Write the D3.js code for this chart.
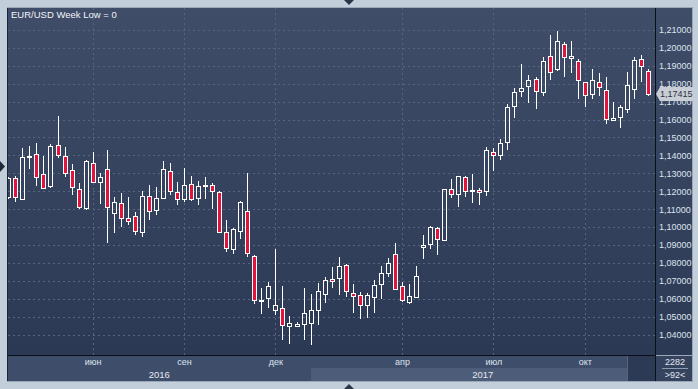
<!DOCTYPE html>
<html>
<head>
<meta charset="utf-8">
<script src="https://cdn.jsdelivr.net/npm/d3@7"></script>
<style>
  body { margin: 0; background: #c3cedb; }
  svg { display: block; font-family: "Liberation Sans", Arial, sans-serif; }
</style>
</head>
<body>
<div id="graphic"></div>
<script>
// weekly EUR/USD candles, first week starts 2016-03-07
var firstWeek = "2016-03-07";
var openP = [1.1165,1.1272,1.1158,1.1394,1.1406,1.1294,1.1229,1.1456,1.1395,1.1317,1.1214,1.1108,1.1356,1.1250,1.1322,1.1077,1.1132,1.1049,1.1060,1.0970,
  1.1171,1.1093,1.1160,1.1311,1.1194,1.1155,1.1238,1.1160,1.1233,1.1233,1.1194,1.0970,1.0879,1.0976,1.1088,1.0836,1.0587,1.0602,1.0535,1.0546,
  1.0446,1.0446,1.0457,1.0462,1.0535,1.0624,1.0708,1.0714,1.0786,1.0630,1.0619,1.0563,1.0611,1.0680,1.0741,1.0848,1.0669,1.0580,1.0607,1.0887,
  1.0903,1.0993,1.0926,1.1210,1.1183,1.1278,1.1204,1.1205,1.1199,1.1420,1.1400,1.1473,1.1674,1.1758,1.1786,1.1825,1.1752,1.1953,1.1881,1.2020,
  1.1942,1.1925,1.1808,1.1741,1.1808,1.1763,1.1596,1.1613,1.1657,1.1769,1.1936,1.1869];
var highP = [1.1279,1.1285,1.1441,1.1452,1.1469,1.1396,1.1463,1.1620,1.1447,1.1350,1.1246,1.1374,1.1419,1.1302,1.1430,1.1166,1.1190,1.1168,1.1084,1.1201,
  1.1235,1.1223,1.1367,1.1356,1.1250,1.1328,1.1283,1.1255,1.1278,1.1246,1.1199,1.1037,1.0993,1.1144,1.1300,1.0842,1.0661,1.0691,1.0877,1.0670,
  1.0501,1.0468,1.0659,1.0626,1.0687,1.0721,1.0777,1.0832,1.0793,1.0680,1.0635,1.0630,1.0702,1.0781,1.0825,1.0909,1.0691,1.0680,1.0781,1.0954,
  1.1003,1.0998,1.1215,1.1266,1.1287,1.1283,1.1294,1.1216,1.1445,1.1441,1.1491,1.1685,1.1774,1.1910,1.1847,1.1836,1.1948,1.2070,1.2093,1.2031,
  1.2037,1.1936,1.1812,1.1881,1.1858,1.1836,1.1696,1.1680,1.1864,1.1951,1.1959,1.1881];
var lowP = [1.1156,1.1141,1.1151,1.1324,1.1229,1.1212,1.1219,1.1387,1.1281,1.1180,1.1102,1.1097,1.1244,1.1130,1.0912,1.0968,1.1002,1.1013,1.0954,1.0946,
  1.1041,1.1069,1.1155,1.1179,1.1121,1.1138,1.1144,1.1121,1.1155,1.1102,1.0966,1.0859,1.0851,1.0935,1.0831,1.0568,1.0516,1.0548,1.0507,1.0367,
  1.0347,1.0440,1.0369,1.0339,1.0454,1.0576,1.0658,1.0619,1.0607,1.0521,1.0488,1.0494,1.0521,1.0600,1.0719,1.0647,1.0580,1.0568,1.0604,1.0820,
  1.0875,1.0842,1.0920,1.1160,1.1110,1.1166,1.1132,1.1121,1.1171,1.1313,1.1372,1.1432,1.1610,1.1724,1.1691,1.1661,1.1730,1.1821,1.1869,1.1836,
  1.1858,1.1716,1.1668,1.1716,1.1730,1.1573,1.1592,1.1551,1.1635,1.1713,1.1808,1.1730];
var closeP = [1.1272,1.1166,1.1389,1.1396,1.1281,1.1219,1.1451,1.1400,1.1303,1.1222,1.1113,1.1367,1.1250,1.1278,1.1110,1.1138,1.1049,1.1032,1.0976,1.1171,
  1.1088,1.1160,1.1322,1.1199,1.1155,1.1233,1.1155,1.1227,1.1236,1.1199,1.0970,1.0881,1.0987,1.1138,1.0853,1.0591,1.0590,1.0669,1.0563,1.0451,
  1.0462,1.0457,1.0518,1.0535,1.0641,1.0702,1.0697,1.0781,1.0641,1.0613,1.0563,1.0619,1.0674,1.0741,1.0797,1.0652,1.0591,1.0613,1.0725,1.0898,
  1.0998,1.0931,1.1210,1.1183,1.1283,1.1199,1.1207,1.1194,1.1428,1.1400,1.1467,1.1668,1.1752,1.1774,1.1819,1.1758,1.1925,1.1864,1.2037,1.1948,
  1.1953,1.1819,1.1735,1.1819,1.1780,1.1605,1.1607,1.1668,1.1791,1.1931,1.1897,1.17415];

var yTicks = [1.04,1.05,1.06,1.07,1.08,1.09,1.10,1.11,1.12,1.13,1.14,1.15,1.16,1.17,1.18,1.19,1.20,1.21];
var monthTicks = ["2016-05-30","2016-08-29","2016-11-28","2017-04-03","2017-07-03","2017-10-02"];
var monthLabels = ["июн","сен","дек","апр","июл","окт"];
var yearStarts = ["2016-03-07","2017-01-02"];
var yearLabels = ["2016","2017"];
var title = "EUR/USD Week Low = 0";
var lastPrice = 1.17415;
var barsCount = "2282";
var visibleBars = ">92<";

var W = 698, H = 389;
var plot = {left: 8, top: 8, right: 655, bottom: 355};
var axisBottom = 381, panelRight = 692;

var parse = d3.utcParse("%Y-%m-%d");
var fmtDay = d3.utcFormat("%Y-%m-%d");
var dates = d3.utcMonday.range(parse(firstWeek), d3.utcMonday.offset(parse(firstWeek), openP.length)).map(fmtDay);

var data = dates.map(function(d, i) {
  return {date: d, open: openP[i], high: highP[i], low: lowP[i], close: closeP[i]};
});

var svg = d3.select("#graphic").append("svg")
  .attr("width", W).attr("height", H);

var defs = svg.append("defs");
var grad = defs.append("linearGradient").attr("id", "bg").attr("x1", 0).attr("y1", 0).attr("x2", 0).attr("y2", 1);
grad.append("stop").attr("offset", "0%").attr("stop-color", "#3f4d68");
grad.append("stop").attr("offset", "100%").attr("stop-color", "#2c3954");
defs.append("clipPath").attr("id", "plotclip").append("rect")
  .attr("x", plot.left).attr("y", plot.top)
  .attr("width", plot.right - plot.left).attr("height", plot.bottom - plot.top);

// outer frame
svg.append("rect").attr("width", W).attr("height", H).attr("fill", "#c3cedb");
svg.append("rect").attr("x", plot.left - 1).attr("y", plot.top - 1)
  .attr("width", panelRight - plot.left + 2).attr("height", axisBottom - plot.top + 2)
  .attr("fill", "#9aa8ba");
// plot + right panel background
svg.append("rect").attr("x", plot.left).attr("y", plot.top)
  .attr("width", panelRight - plot.left).attr("height", plot.bottom - plot.top)
  .attr("fill", "url(#bg)");

// scales
var x = d3.scalePoint().domain(dates).range([8.3, 648.0]);
var step = x.step();
var y = d3.scaleLinear().domain([1.04, 1.21]).range([334.5, 30]);

var g = svg.append("g").attr("clip-path", "url(#plotclip)");

// grid
g.selectAll("line.hgrid").data(yTicks).join("line")
  .attr("x1", plot.left).attr("x2", plot.right)
  .attr("y1", d => Math.round(y(d)) + 0.5).attr("y2", d => Math.round(y(d)) + 0.5)
  .attr("stroke", "#56657f").attr("stroke-dasharray", "2,3");
g.selectAll("line.vgrid").data(monthTicks).join("line")
  .attr("x1", d => Math.round(x(d)) + 0.5).attr("x2", d => Math.round(x(d)) + 0.5)
  .attr("y1", plot.top).attr("y2", plot.bottom)
  .attr("stroke", "#56657f").attr("stroke-dasharray", "2,3");

// candles
var red = "#e2143c";
var candle = g.selectAll("g.candle").data(data).join("g").attr("class", "candle");
function cx(d) { return Math.round(x(d.date)) + 0.5; }
function bodyTop(d) { return Math.round(y(Math.max(d.open, d.close))) + 0.5; }
function bodyBot(d) { return Math.max(Math.round(y(Math.min(d.open, d.close))) + 0.5, bodyTop(d) + 1); }

candle.append("line")
  .attr("x1", cx).attr("x2", cx)
  .attr("y1", d => Math.round(y(d.high))).attr("y2", bodyTop)
  .attr("stroke", "#fff");
candle.append("line")
  .attr("x1", cx).attr("x2", cx)
  .attr("y1", bodyBot).attr("y2", d => Math.round(y(d.low)))
  .attr("stroke", "#fff");
candle.append("rect")
  .attr("x", d => cx(d) - 2).attr("width", 4)
  .attr("y", bodyTop).attr("height", d => bodyBot(d) - bodyTop(d))
  .attr("fill", d => d.close < d.open ? red : "none")
  .attr("stroke", "#fff");

// title
svg.append("text").attr("x", 11).attr("y", 18)
  .attr("font-size", 9.5).attr("fill", "#f2f5fa").text(title);

// bottom axis area
svg.append("rect").attr("x", plot.left).attr("y", plot.bottom)
  .attr("width", plot.right - plot.left).attr("height", axisBottom - plot.bottom)
  .attr("fill", "#3e4d69");
var yearX = yearStarts.map(d => x(d));
svg.append("rect").attr("x", Math.round(yearX[1])).attr("y", 368)
  .attr("width", plot.right - Math.round(yearX[1])).attr("height", axisBottom - 368)
  .attr("fill", "#4d5c78");
svg.append("rect").attr("x", 628).attr("y", plot.bottom + 1)
  .attr("width", plot.right - 628).attr("height", axisBottom - plot.bottom - 1)
  .attr("fill", "#2c3a55");
svg.append("line").attr("x1", 627.5).attr("x2", 627.5).attr("y1", plot.bottom + 1).attr("y2", axisBottom)
  .attr("stroke", "#56657f");

var xAxis = d3.axisBottom(x).tickValues(monthTicks)
  .tickFormat(d => monthLabels[monthTicks.indexOf(d)])
  .tickSize(0).tickPadding(4);
svg.append("g").attr("transform", "translate(0," + plot.bottom + ")")
  .call(xAxis)
  .call(a => a.select(".domain").remove())
  .selectAll("text").attr("font-size", 9).attr("fill", "#dde4ee").attr("font-family", null);

var yearEdges = [plot.left, yearX[1], plot.right];
svg.selectAll("text.year").data(yearLabels).join("text")
  .attr("class", "year")
  .attr("x", (d, i) => (yearEdges[i] + yearEdges[i + 1]) / 2)
  .attr("y", 378).attr("text-anchor", "middle")
  .attr("font-size", 9.5).attr("fill", "#e4e9f1").text(d => d);

// right axis
var fmt = d3.formatLocale({decimal: ",", thousands: " ", grouping: [3], currency: ["", ""]}).format(".5f");
var yAxis = d3.axisRight(y).tickValues(yTicks).tickFormat(fmt).tickSize(0).tickPadding(4);
svg.append("g").attr("transform", "translate(" + plot.right + ",0)")
  .call(yAxis)
  .call(a => a.select(".domain").remove())
  .selectAll("text").attr("font-size", 9).attr("fill", "#dde4ee").attr("font-family", null);

// right bottom box
svg.append("rect").attr("x", plot.right + 1).attr("y", plot.bottom + 1)
  .attr("width", panelRight - plot.right - 1).attr("height", axisBottom - plot.bottom - 1)
  .attr("fill", "#35435f");
svg.append("line").attr("x1", 662).attr("x2", 688).attr("y1", 368.5).attr("y2", 368.5).attr("stroke", "#8d9bb0");
svg.append("text").attr("x", 675).attr("y", 365).attr("text-anchor", "middle")
  .attr("font-size", 9).attr("fill", "#e4e9f1").text(barsCount);
svg.append("text").attr("x", 675).attr("y", 377.5).attr("text-anchor", "middle")
  .attr("font-size", 9).attr("fill", "#e4e9f1").text(visibleBars);

// frame lines
svg.append("line").attr("x1", plot.left).attr("x2", plot.right + 1)
  .attr("y1", plot.bottom + 0.5).attr("y2", plot.bottom + 0.5).attr("stroke", "#0b0f18");
svg.append("line").attr("x1", plot.right + 0.5).attr("x2", plot.right + 0.5)
  .attr("y1", plot.top).attr("y2", axisBottom).attr("stroke", "#0b0f18");
svg.append("line").attr("x1", plot.left - 0.5).attr("x2", plot.left - 0.5)
  .attr("y1", plot.top).attr("y2", axisBottom).attr("stroke", "#1c2536");

// last price tag
var py = Math.round(y(lastPrice));
var tag = svg.append("g");
tag.append("path")
  .attr("d", "M" + (plot.right + 1) + "," + py + " L" + (plot.right + 5) + "," + (py - 7) +
    " H" + (panelRight + 1) + " V" + (py + 7) + " H" + (plot.right + 5) + " Z")
  .attr("fill", "#c9ced6");
tag.append("text").attr("x", plot.right + 5).attr("y", py).attr("dy", "0.33em")
  .attr("font-size", 9).attr("fill", "#2b3242").text(fmt(lastPrice));

// scroll markers
svg.append("path").attr("d", "M344,0 L354,0 L349,5 Z").attr("fill", "#2a3548");
svg.append("path").attr("d", "M344,389 L354,389 L349,384 Z").attr("fill", "#2a3548");
svg.append("path").attr("d", "M0,161 L0,172 L5,166.5 Z").attr("fill", "#1f2a3c");
</script>
</body>
</html>
